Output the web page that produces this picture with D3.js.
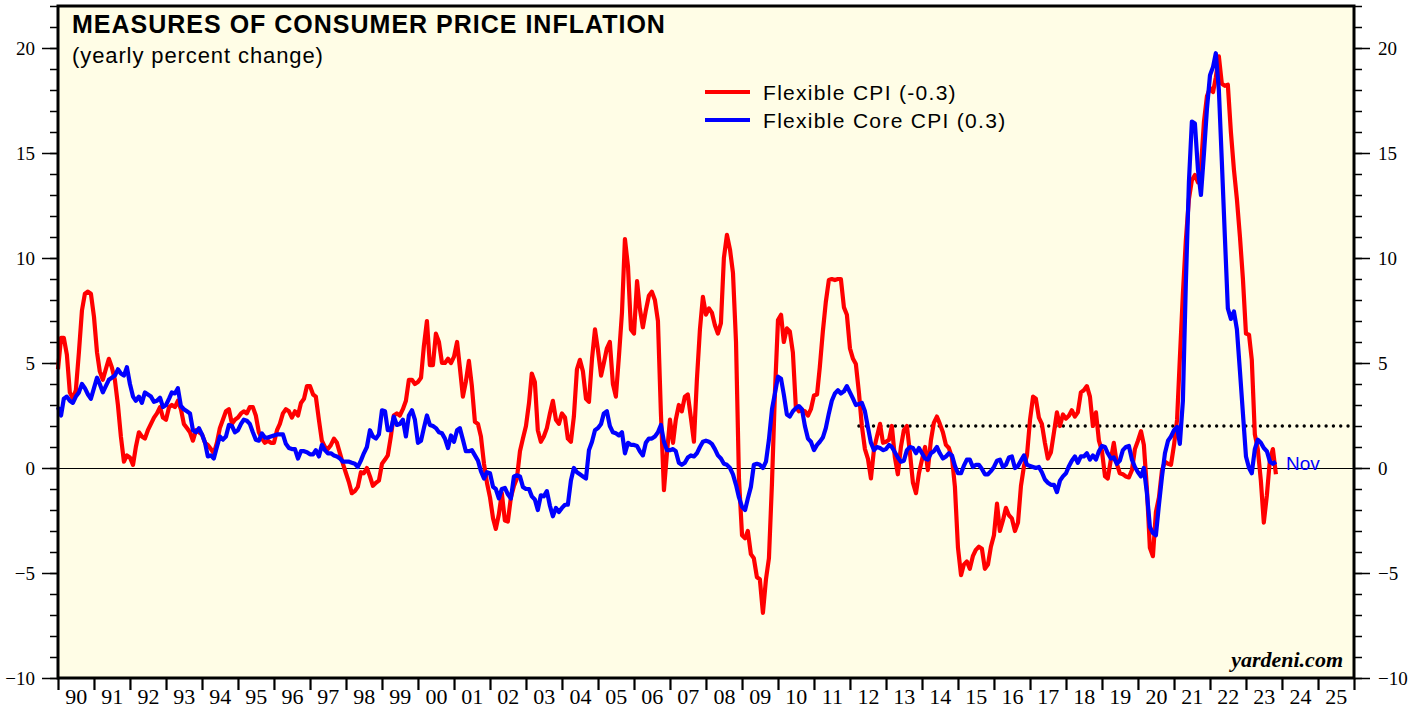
<!DOCTYPE html>
<meta charset="utf-8">
<style>
  body { margin: 0; background: #fff; }
</style>

<!-- Load d3.js -->
<script src="https://d3js.org/d3.v7.min.js"></script>

<!-- Create a div where the graph will take place -->
<div id="my_dataviz"></div>
<script>

// monthly data, Jan 1990 .. Nov 2023 (yearly percent change)
var startYear = 1990;
var lastLabel = "Nov";

var flexCpi = [
  4.7, 6.2, 6.2, 5.4, 3.6, 3.3, 3.7, 5.5, 7.5, 8.3, 8.4, 8.3,            // 1990
  7.2, 5.5, 4.6, 4.2, 4.7, 5.2, 4.8, 4.2, 3.0, 1.5, 0.3, 0.6,            // 1991
  0.5, 0.15, 1.0, 1.7, 1.5, 1.4, 1.8, 2.1, 2.4, 2.6, 2.9, 2.4,           // 1992
  2.3, 2.9, 3.0, 2.9, 3.2, 2.8, 2.1, 1.9, 1.7, 1.3, 1.8, 1.7,            // 1993
  1.6, 1.2, 1.1, 0.9, 0.7, 1.2, 1.9, 2.3, 2.7, 2.8, 2.1, 2.3,            // 1994
  2.4, 2.6, 2.7, 2.6, 2.9, 2.9, 2.5, 1.7, 1.4, 1.2, 1.3, 1.2,            // 1995
  1.2, 1.8, 2.1, 2.6, 2.8, 2.7, 2.4, 2.7, 2.5, 3.1, 3.3, 3.9,            // 1996
  3.9, 3.5, 3.4, 2.3, 1.3, 1.0, 0.9, 1.1, 1.4, 1.2, 0.7, 0.2,            // 1997
  -0.25, -0.7, -1.2, -1.1, -0.9, -0.2, -0.25, 0.0, -0.4, -0.85, -0.7, -0.6, // 1998
  0.2, 0.4, 0.6, 1.5, 2.5, 2.6, 2.5, 2.8, 3.2, 4.2, 4.2, 4.0,            // 1999
  4.1, 4.3, 5.8, 7.0, 4.9, 4.9, 6.4, 6.0, 5.0, 5.0, 5.2, 5.0,            // 2000
  5.3, 6.0, 4.8, 3.4, 4.1, 5.1, 3.9, 2.2, 2.1, 1.5, 0.2, -0.7,           // 2001
  -1.4, -2.4, -2.9, -2.2, -1.2, -2.5, -2.55, -1.4, -0.85, -0.5, 0.8, 1.4, // 2002
  2.0, 3.1, 4.5, 4.1, 1.8, 1.25, 1.5, 1.9, 2.6, 3.2, 2.3, 2.1,           // 2003
  2.6, 2.4, 1.4, 1.25, 2.45, 4.7, 5.15, 4.6, 3.3, 3.15, 5.2, 6.6,        // 2004
  5.6, 4.4, 5.0, 5.7, 6.0, 4.0, 3.4, 5.3, 7.4, 10.9, 9.6, 6.6,           // 2005
  6.4, 8.9, 7.6, 6.7, 7.5, 8.2, 8.4, 8.0, 7.0, 2.6, -1.05, 0.7,          // 2006
  2.3, 1.2, 2.3, 3.0, 2.7, 3.4, 3.5, 2.4, 1.25, 4.2, 6.6, 8.15,          // 2007
  7.3, 7.6, 7.4, 6.8, 6.4, 6.9, 10.0, 11.1, 10.4, 9.3, 6.0, -0.5,        // 2008
  -3.2, -3.35, -3.0, -4.1, -4.3, -5.2, -5.3, -6.9, -5.3, -4.3, -0.7, 3.6, // 2009
  7.05, 7.3, 6.0, 6.65, 6.5, 5.5, 2.9, 2.7, 2.75, 2.7, 2.5, 2.8,         // 2010
  3.45, 3.5, 4.8, 6.5, 7.9, 8.95, 9.0, 8.95, 9.0, 9.0, 7.65, 7.3,        // 2011
  5.7, 5.2, 4.95, 3.6, 2.0, 0.9, 0.45, -0.5, 0.9, 1.5, 2.1, 1.2,         // 2012
  1.25, 1.35, 2.0, 0.5, -0.3, 1.0, 1.8, 2.0, 0.7, -0.7, -1.2, -0.25,     // 2013
  0.4, 1.0, -0.1, 1.3, 2.15, 2.45, 2.1, 1.7, 1.1, 0.95, 0.5, -0.9,       // 2014
  -3.8, -5.1, -4.6, -4.45, -4.8, -4.2, -3.9, -3.75, -3.85, -4.8, -4.6, -3.75, // 2015
  -3.2, -1.7, -3.0, -2.5, -1.9, -2.25, -2.4, -3.0, -2.6, -0.85, 0.1, 0.6, // 2016
  2.3, 3.4, 3.3, 2.4, 2.1, 1.2, 0.45, 0.75, 1.7, 2.65, 2.0, 2.55,        // 2017
  2.35, 2.5, 2.75, 2.45, 2.65, 3.6, 3.7, 3.9, 3.4, 2.0, 2.65, 1.3,       // 2018
  0.8, -0.4, -0.5, 0.4, 1.2, 0.2, -0.25, -0.3, -0.4, -0.45, -0.1, 0.9,   // 2019
  1.3, 1.75, 1.1, -1.0, -3.8, -4.2, -2.1, -1.4, -0.1, 0.3, 0.2, 0.15,    // 2020
  1.1, 2.3, 5.2, 8.3, 10.85, 12.8, 13.7, 13.95, 13.6, 14.3, 16.5, 17.7,  // 2021
  18.1, 17.9, 18.6, 19.6, 18.3, 18.2, 18.25, 16.0, 14.2, 12.8, 11.0, 9.0, // 2022
  6.4, 6.35, 5.15, 1.6, 0.9, -0.6, -2.6, -1.3, 0.4, 0.9, -0.3            // 2023
];

var flexCoreCpi = [
  2.9, 2.5, 3.3, 3.4, 3.2, 3.1, 3.4, 3.6, 4.0, 3.8, 3.5, 3.3,            // 1990
  3.8, 4.3, 4.0, 3.6, 3.9, 4.2, 4.3, 4.4, 4.7, 4.5, 4.4, 4.8,            // 1991
  4.0, 3.4, 3.2, 3.4, 3.1, 3.6, 3.5, 3.4, 3.15, 3.2, 3.35, 2.9,          // 1992
  3.0, 3.3, 3.6, 3.55, 3.8, 2.95, 2.8, 2.7, 2.6, 1.8, 1.7, 1.9,          // 1993
  1.6, 1.2, 0.55, 0.6, 0.45, 1.0, 1.5, 1.35, 1.5, 2.05, 2.0, 1.7,        // 1994
  1.8, 2.1, 2.3, 2.25, 2.1, 1.7, 1.35, 1.3, 1.65, 1.45, 1.45, 1.5,       // 1995
  1.55, 1.6, 1.6, 1.6, 1.15, 0.95, 0.9, 0.9, 0.45, 0.8, 0.8, 0.75,       // 1996
  0.65, 0.65, 0.85, 0.55, 1.1, 0.85, 0.7, 0.7, 0.6, 0.55, 0.45, 0.3,     // 1997
  0.3, 0.3, 0.25, 0.2, 0.05, 0.35, 0.7, 1.0, 1.8, 1.5, 1.4, 1.6,         // 1998
  2.75, 2.7, 1.8, 1.8, 2.45, 2.05, 2.1, 2.3, 1.5, 2.5, 2.75, 2.3,        // 1999
  1.2, 1.3, 1.9, 2.5, 2.05, 2.0, 1.9, 1.7, 1.65, 1.4, 0.95, 1.55,        // 2000
  1.25, 1.8, 1.9, 1.35, 0.8, 0.8, 0.85, 0.6, 0.35, -0.15, -0.5, -0.2,    // 2001
  -0.25, -0.9, -1.0, -1.45, -1.0, -0.95, -1.25, -1.45, -0.4, -0.35, -0.4, -0.9, // 2002
  -1.0, -1.0, -1.35, -1.5, -2.0, -1.3, -1.35, -1.1, -1.8, -2.3, -1.9, -2.1, // 2003
  -1.9, -1.75, -1.75, -0.6, 0.0, -0.2, -0.3, -0.4, -0.5, 0.85, 1.25, 1.8, // 2004
  1.9, 2.1, 2.6, 2.7, 2.0, 1.7, 1.65, 1.55, 1.7, 0.7, 1.2, 1.1,          // 2005
  1.1, 1.05, 0.8, 0.6, 1.2, 1.4, 1.4, 1.5, 1.7, 2.05, 1.25, 0.85,        // 2006
  0.85, 0.9, 0.8, 0.25, 0.15, 0.25, 0.5, 0.6, 0.55, 0.7, 1.0, 1.25,      // 2007
  1.3, 1.25, 1.15, 0.9, 0.6, 0.45, 0.2, 0.15, 0.0, -0.3, -0.8, -1.4,     // 2008
  -1.85, -2.0, -1.45, -0.9, 0.15, 0.2, 0.15, 0.0, 0.3, 1.35, 2.8, 3.55,  // 2009
  4.35, 4.25, 3.5, 2.55, 2.45, 2.7, 2.85, 2.95, 2.8, 2.0, 1.4, 1.25,     // 2010
  0.85, 1.1, 1.25, 1.45, 1.9, 2.6, 3.2, 3.55, 3.7, 3.55, 3.65, 3.9,      // 2011
  3.6, 3.3, 3.0, 3.05, 3.1, 2.7, 1.95, 1.2, 0.85, 1.0, 0.95, 0.85,       // 2012
  0.9, 1.1, 1.0, 0.75, 0.5, 0.3, 0.35, 0.85, 1.0, 0.95, 0.7, 0.95,       // 2013
  0.7, 0.45, 0.4, 0.7, 0.8, 1.0, 0.7, 0.45, 0.55, 0.7, 0.6, 0.1,         // 2014
  -0.25, -0.25, 0.1, 0.4, 0.4, 0.05, 0.15, 0.15, -0.05, -0.3, -0.3, -0.15, // 2015
  0.05, 0.35, 0.4, 0.05, 0.15, 0.5, 0.55, 0.0, 0.1, 0.35, 0.6, 0.15,     // 2016
  0.1, 0.05, 0.0, 0.05, -0.2, -0.55, -0.7, -0.8, -0.8, -1.15, -0.6, -0.4, // 2017
  -0.25, 0.1, 0.35, 0.55, 0.25, 0.55, 0.55, 0.7, 0.4, 0.6, 0.4, 0.8,     // 2018
  1.05, 1.0, 0.7, 0.45, 0.5, 0.2, 0.35, 0.85, 1.0, 1.05, 0.4, 0.05,      // 2019
  -0.2, -0.4, 0.0, -1.2, -2.8, -3.1, -3.2, -1.75, -0.4, 0.7, 1.3, 1.5,   // 2020
  1.8, 1.95, 1.15, 3.2, 8.8, 13.6, 16.5, 16.4, 14.2, 13.0, 15.0, 17.1,   // 2021
  18.7, 19.1, 19.75, 18.0, 14.6, 11.0, 7.6, 7.1, 7.45, 6.6, 4.6, 2.6,    // 2022
  0.55, 0.0, -0.25, 0.9, 1.35, 1.2, 0.95, 0.8, 0.3, 0.2, 0.3             // 2023
];

var seriesNames = ["Flexible CPI (-0.3)", "Flexible Core CPI (0.3)"];
var seriesColors = ["#ff0000", "#0000ff"];
var yMajorTicks = [-10, -5, 0, 5, 10, 15, 20];
var fedTarget = 2;
var fedTargetStart = new Date(2012, 3, 1);

// set the dimensions and margins of the graph
var totalW = 1419, totalH = 710;
var margin = {top: 6, right: 65, bottom: 32, left: 58},
  width = totalW - margin.left - margin.right,
  height = totalH - margin.top - margin.bottom;

var svg = d3.select("#my_dataviz")
.append("svg")
  .attr("width", totalW)
  .attr("height", totalH)
.append("g")
  .attr("transform", "translate(" + margin.left + "," + margin.top + ")");

// scales
var x = d3.scaleTime()
  .domain([new Date(startYear, 0, 1), new Date(2026, 0, 1)])
  .range([0, width]);
var y = d3.scaleLinear()
  .domain([-10, 22])
  .range([height, 0]);

var serif = "'Liberation Serif', 'Times New Roman', serif";
var sans = "'Liberation Sans', Arial, sans-serif";

// plot background
svg.append("rect")
  .attr("width", width)
  .attr("height", height)
  .style("fill", "#fffde6");

// left and right axes: minor ticks every 1, major ticks every 5
var minorTicks = d3.range(-10, 23);
function styleAxis(g) {
  g.select(".domain").remove();
  g.selectAll("line").style("stroke", "#000").style("stroke-width", 1.5);
  g.selectAll("text").style("font-family", serif).style("font-size", "19px").style("fill", "#000");
}
svg.append("g")
  .call(d3.axisLeft(y).tickValues(minorTicks).tickSize(8).tickFormat(""))
  .call(styleAxis);
svg.append("g")
  .call(d3.axisLeft(y).tickValues(yMajorTicks).tickSize(16).tickPadding(7))
  .call(styleAxis);
svg.append("g")
  .attr("transform", "translate(" + width + ",0)")
  .call(d3.axisRight(y).tickValues(minorTicks).tickSize(8).tickFormat(""))
  .call(styleAxis);
svg.append("g")
  .attr("transform", "translate(" + width + ",0)")
  .call(d3.axisRight(y).tickValues(yMajorTicks).tickSize(16).tickPadding(8))
  .call(styleAxis);

// bottom axis: ticks at year boundaries, labels in the middle of each year
var yearStarts = d3.range(startYear, 2027).map(function(yr) { return new Date(yr, 0, 1); });
var yearMids = d3.range(startYear, 2026).map(function(yr) { return new Date(yr, 6, 1); });
svg.append("g")
  .attr("transform", "translate(0," + height + ")")
  .call(d3.axisBottom(x).tickValues(yearStarts).tickSize(12).tickFormat(""))
  .call(function(g) {
    g.select(".domain").remove();
    g.selectAll("line").style("stroke", "#000").style("stroke-width", 2.2);
  });
svg.append("g")
  .attr("transform", "translate(0," + height + ")")
  .call(d3.axisBottom(x).tickValues(yearMids).tickSize(0).tickPadding(10).tickFormat(d3.timeFormat("%y")))
  .call(function(g) {
    g.select(".domain").remove();
    g.selectAll("text").style("font-family", serif).style("font-size", "22px").style("fill", "#000");
  });

// zero line
svg.append("line")
  .attr("x1", 0).attr("x2", width)
  .attr("y1", Math.round(y(0)) + 0.5).attr("y2", Math.round(y(0)) + 0.5)
  .style("stroke", "#000")
  .style("stroke-width", 1);

// dotted 2% line
svg.append("line")
  .attr("x1", x(fedTargetStart)).attr("x2", width - 2)
  .attr("y1", y(fedTarget)).attr("y2", y(fedTarget))
  .style("stroke", "#000")
  .style("stroke-width", 3.4)
  .style("stroke-linecap", "round")
  .style("stroke-dasharray", "0,7.3");

// the two series
var line = d3.line()
  .x(function(d, i) { return x(new Date(startYear, i, 1)); })
  .y(function(d) { return y(d); });

[flexCpi, flexCoreCpi].forEach(function(vals, k) {
  svg.append("path")
    .datum(vals)
    .attr("d", line)
    .style("fill", "none")
    .style("stroke", seriesColors[k])
    .style("stroke-width", 4.2)
    .style("stroke-linejoin", "round");
});

// last month label
var lastIdx = flexCoreCpi.length - 1;
svg.append("text")
  .attr("x", x(new Date(startYear, lastIdx, 1)) + 10)
  .attr("y", y(flexCoreCpi[lastIdx]) + 8)
  .style("font-family", sans)
  .style("font-size", "19px")
  .style("fill", "#0000ff")
  .text(lastLabel);

// frame
svg.append("rect")
  .attr("width", width)
  .attr("height", height)
  .style("fill", "none")
  .style("stroke", "#000")
  .style("stroke-width", 3);

// title
svg.append("text")
  .attr("x", 14)
  .attr("y", 27)
  .style("font-family", sans)
  .style("font-weight", "bold")
  .style("font-size", "25px")
  .style("letter-spacing", "1px")
  .text("MEASURES OF CONSUMER PRICE INFLATION");
svg.append("text")
  .attr("x", 14)
  .attr("y", 57)
  .style("font-family", sans)
  .style("font-size", "22px")
  .style("letter-spacing", "0.9px")
  .text("(yearly percent change)");

// legend
var legend = svg.append("g")
  .attr("transform", "translate(647,86)");
seriesNames.forEach(function(name, k) {
  legend.append("line")
    .attr("x1", 0).attr("x2", 45)
    .attr("y1", k * 28).attr("y2", k * 28)
    .style("stroke", seriesColors[k])
    .style("stroke-width", 4);
  legend.append("text")
    .attr("x", 58)
    .attr("y", k * 28 + 8)
    .style("font-family", sans)
    .style("font-size", "21px")
    .style("letter-spacing", "1.3px")
    .text(name);
});

// source
svg.append("text")
  .attr("x", width - 11)
  .attr("y", height - 11)
  .attr("text-anchor", "end")
  .style("font-family", serif)
  .style("font-weight", "bold")
  .style("font-style", "italic")
  .style("font-size", "22px")
  .text("yardeni.com");

</script>
